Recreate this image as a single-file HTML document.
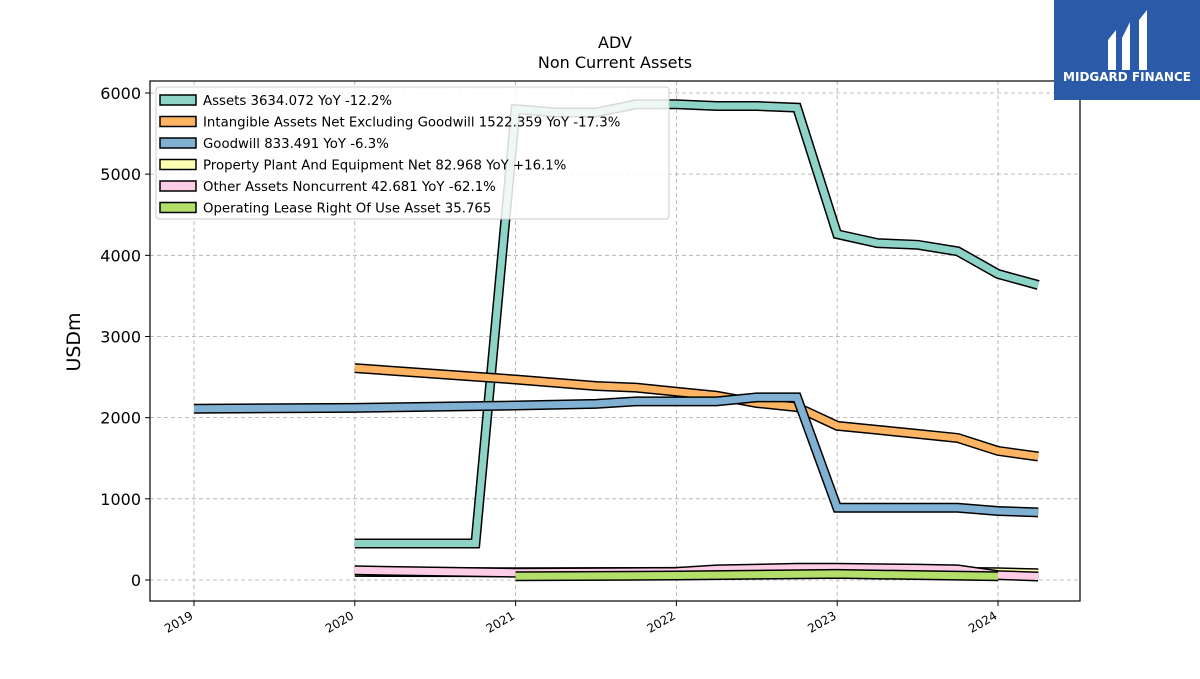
<!DOCTYPE html>
<html><head><meta charset="utf-8"><style>
body{margin:0;background:#fff;font-family:"DejaVu Sans","Liberation Sans",sans-serif}
</style></head><body>
<svg width="1200" height="675" xmlns="http://www.w3.org/2000/svg" font-family="DejaVu Sans, Liberation Sans, sans-serif">
<rect width="1200" height="675" fill="#fff"/>
<text x="615" y="48" text-anchor="middle" font-size="16">ADV</text>
<text x="615" y="68" text-anchor="middle" font-size="16">Non Current  Assets</text>
<g id="grid"></g>
<g id="series"></g>
<rect x="150" y="81" width="930" height="520" fill="none" stroke="#000" stroke-width="1.2"/>
<g id="axes"></g>
<text transform="translate(80,342) rotate(-90)" text-anchor="middle" font-size="19">USDm</text>
<g id="legend"></g>
<g>
<rect x="1054" y="0" width="146" height="100" fill="#2a5aa8"/>
<path d="M1108 40 L1116 30 L1116 70 L1108 70 Z M1122 38 L1130 22 L1130 70 L1122 70 Z M1139 20 L1147 10 L1147 70 L1139 70 Z" fill="#fff"/>
<text x="1127" y="81" text-anchor="middle" font-size="12" font-weight="bold" fill="#fff">MIDGARD FINANCE</text>
</g>
</svg>
<script>
const yearTicks=[2019,2020,2021,2022,2023,2024];
const yTicks=[0,1000,2000,3000,4000,5000,6000];
const seriesNames=["Assets  3634.072 YoY -12.2%","Intangible Assets Net Excluding Goodwill  1522.359 YoY -17.3%","Goodwill  833.491 YoY -6.3%","Property Plant And Equipment Net  82.968 YoY +16.1%","Other Assets Noncurrent  42.681 YoY -62.1%","Operating Lease Right Of Use Asset  35.765"];
const colors=["#8dd3c7","#fdb462","#80b1d3","#ffffb3","#fccde5","#b3de69"];
const assetsX=[2020,2020.75,2021,2021.25,2021.5,2021.75,2022,2022.25,2022.5,2022.75,2023,2023.25,2023.5,2023.75,2024,2024.25];
const assetsY=[450,450,5800,5760,5760,5860,5860,5840,5840,5820,4260,4150,4130,4050,3770,3634];
const intanX=[2020,2021,2021.5,2021.75,2022,2022.25,2022.5,2022.75,2023,2023.25,2023.5,2023.75,2024,2024.25];
const intanY=[2610,2470,2390,2370,2320,2270,2180,2130,1900,1850,1800,1750,1590,1522];
const gwX=[2019,2020,2021,2021.5,2021.75,2022,2022.25,2022.5,2022.75,2023,2023.5,2023.75,2024,2024.25];
const gwY=[2110,2120,2150,2170,2200,2200,2200,2250,2250,890,890,890,850,833];
const ppeX=[2020,2021,2022,2022.5,2023,2023.75,2024,2024.25];
const ppeY=[100,95,100,110,110,100,95,83];
const otherX=[2020,2021,2022,2022.25,2022.75,2023,2023.5,2023.75,2024,2024.25];
const otherY=[120,90,100,130,150,150,140,130,60,43];
const leaseX=[2021,2022,2023,2024];
const leaseY=[45,55,75,45];
const NS="http://www.w3.org/2000/svg";
const sx=v=>194+(v-2019)*160.8;
const sy=v=>580-v*0.08117;
function mk(tag,attrs,parent){const e=document.createElementNS(NS,tag);for(const k in attrs)e.setAttribute(k,attrs[k]);parent.appendChild(e);return e;}
const grid=document.getElementById('grid'),axes=document.getElementById('axes'),ser=document.getElementById('series'),leg=document.getElementById('legend');
yearTicks.forEach(t=>{const x=sx(t);
 const l=mk('line',{x1:x,x2:x,y1:81,y2:601,stroke:'#aaa','stroke-dasharray':'4,3','stroke-width':0.8},grid);
 
 mk('line',{x1:x,x2:x,y1:601,y2:606,stroke:'#000'},axes);
 const tx=mk('text',{x:x,y:618,'font-size':12,'text-anchor':'end',transform:`rotate(-30 ${x} 618)`},axes);tx.textContent=t;
 });
yTicks.forEach(t=>{const y=sy(t);
 const l=mk('line',{x1:150,x2:1080,y1:y,y2:y,stroke:'#aaa','stroke-dasharray':'4,3','stroke-width':0.8},grid);
 
 mk('line',{x1:145,x2:150,y1:y,y2:y,stroke:'#000'},axes);
 const tx=mk('text',{x:141,y:y+6,'font-size':16,'text-anchor':'end'},axes);tx.textContent=t;
 });
const all=[[assetsX,assetsY],[intanX,intanY],[gwX,gwY],[ppeX,ppeY],[otherX,otherY],[leaseX,leaseY]];
const keys=['assets','intangible','goodwill','ppe','other-assets','operating-lease'];
all.forEach((s,i)=>{const d=s[0].map((x,j)=>(j?'L':'M')+sx(x).toFixed(1)+' '+sy(s[1][j]).toFixed(1)).join(' ');
 const g=mk('g',{},ser);
 mk('path',{d:d,fill:'none',stroke:'#000','stroke-width':10,'stroke-linejoin':'miter'},g);
 mk('path',{d:d,fill:'none',stroke:colors[i],'stroke-width':7,'stroke-linejoin':'miter'},g);});
const lb=mk('rect',{x:156,y:87,width:513,height:132,fill:'#fff','fill-opacity':0.85,stroke:'#ccc',rx:3},leg);

seriesNames.forEach((n,i)=>{const y=100+i*21.5;
 const g=mk('g',{},leg);
 mk('rect',{x:160,y:y-5,width:36,height:10,fill:colors[i],stroke:'#000','stroke-width':1.5},g);
 const t=mk('text',{x:203,y:y+5,'font-size':13.3},g);t.textContent=n;});
</script>
</body></html>
